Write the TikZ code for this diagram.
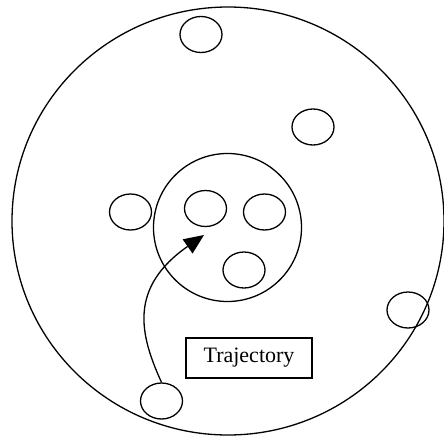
\documentclass[tikz,border=0pt]{standalone}
\usepackage{fontspec}
\setmainfont{Liberation Serif}
\usetikzlibrary{arrows.meta,positioning,shapes.geometric}

\begin{document}
\begin{tikzpicture}[x=1pt, y=-1pt,
  blob/.style={ellipse, draw=black, line width=1.3pt, minimum width=42pt, minimum height=36pt, inner sep=0pt},
  region/.style={ellipse, draw=black, line width=1.3pt, inner sep=0pt},
  tag/.style={rectangle, draw=black, line width=1.3pt, minimum width=126pt, minimum height=40pt, font=\fontsize{22}{24}\selectfont},
  trans/.style={-{Triangle[length=20pt, width=17pt]}, line width=1.3pt}
]
\useasboundingbox (0,0) rectangle (444,436);

\node[region, minimum width=432pt, minimum height=428pt] (world) at (228, 221) {};
\node[region, minimum width=148pt, minimum height=148pt] (zone) at (227.5, 227.5) {};

\node[blob] (top) at (201, 34.5) {};
\node[blob] (upright) at (313, 127) {};
\node[blob] (left) at (130.5, 212) {};
\node[blob] (rim) at (408, 310) {};
\node[blob] (start) at (161.5, 401) {};

\node[blob] (inA) at (205.5, 208.5) {};
\node[blob] (inB) at (264.5, 212) {};
\node[blob] (inC) at (244, 270) {};

\node[tag] (traj) at (249, 358) {Trajectory};

% Trajectory
\coordinate (goal) at (204, 235);
\draw[trans] (start.north) .. controls (140, 335) and (128, 288) .. (goal);

\end{tikzpicture}
\end{document}
